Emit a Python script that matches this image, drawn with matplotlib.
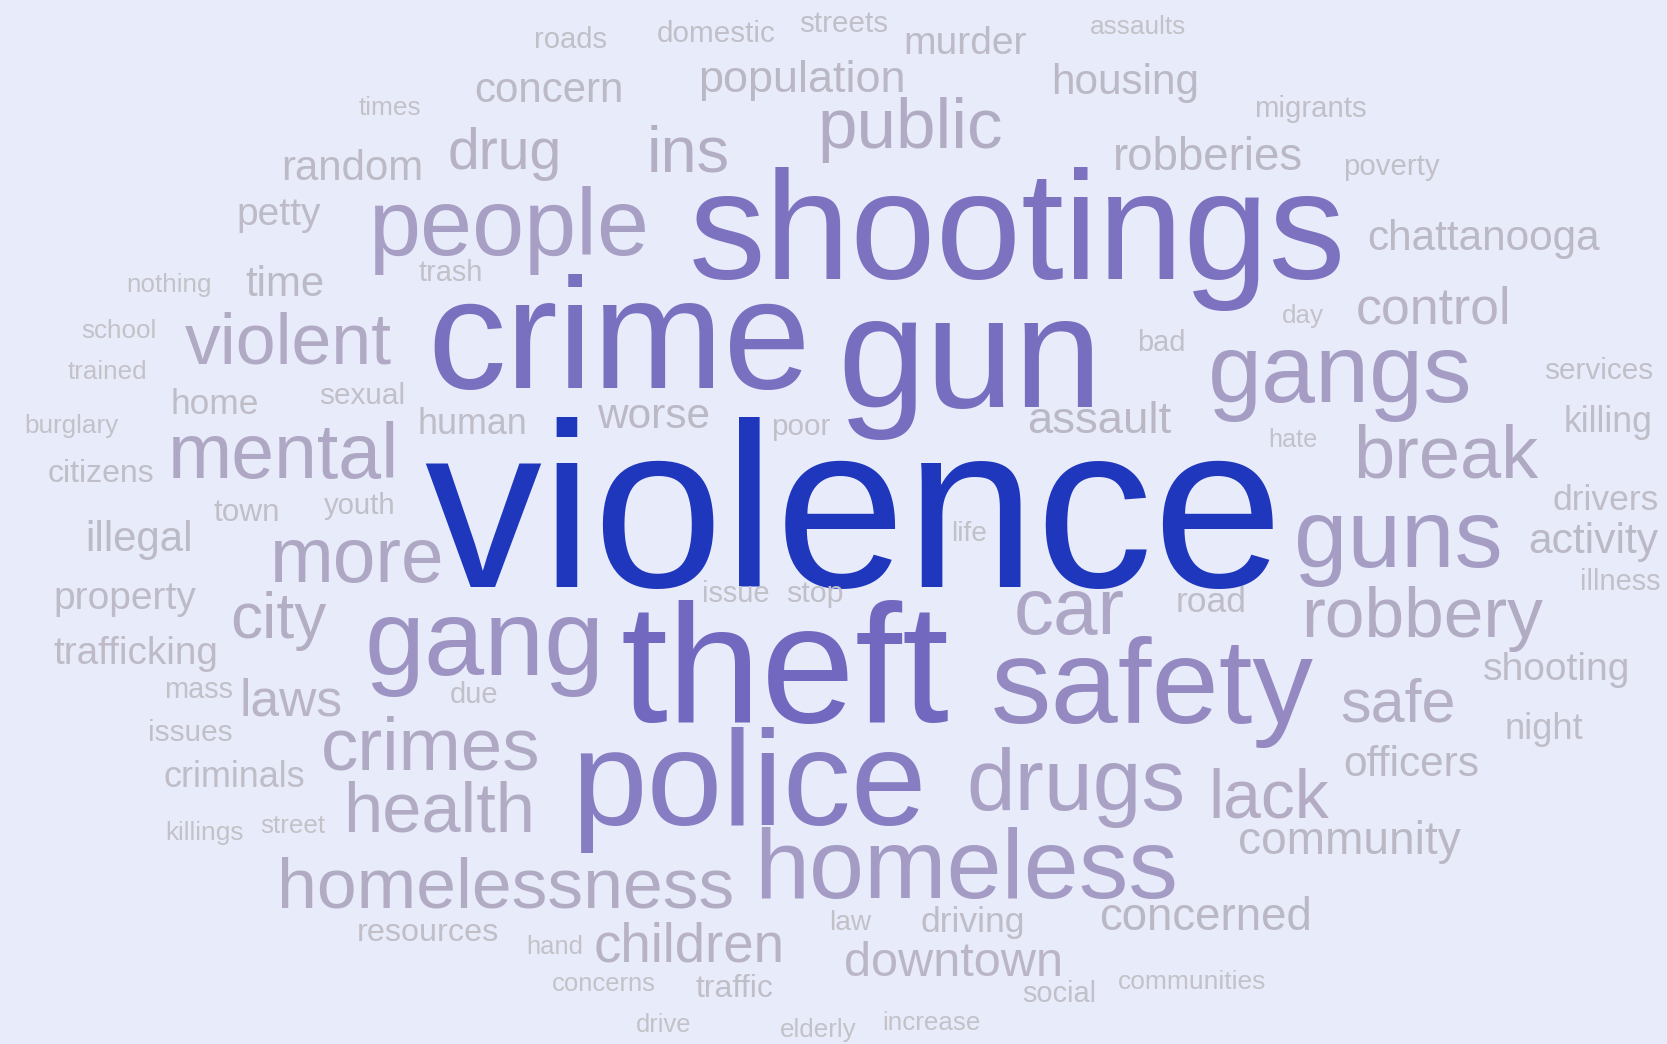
import numpy as np
import matplotlib
matplotlib.use("Agg")
import matplotlib.pyplot as plt
from matplotlib.colors import LinearSegmentedColormap

# word cloud data: word and its weight (font size in px, proportional to frequency)
words = ["violence", "theft", "crime", "gun", "shootings", "police", "safety", "gang",
         "homeless", "gangs", "guns", "people", "drugs", "car", "mental", "more",
         "crimes", "break", "homelessness", "violent", "robbery", "public", "health", "lack",
         "ins", "city", "safe", "drug", "children", "control", "laws", "downtown",
         "community", "robberies", "concerned", "assault", "population", "activity", "officers", "worse",
         "housing", "chattanooga", "concern", "illegal", "time", "random", "murder", "property",
         "shooting", "petty", "trafficking", "night", "criminals", "human", "killing", "road",
         "driving", "drivers", "home", "resources", "citizens", "traffic", "town", "stop",
         "services", "sexual", "issues", "domestic", "streets", "poor", "migrants", "poverty",
         "roads", "youth", "issue", "illness", "mass", "trash", "due", "bad",
         "social", "law", "life", "communities", "times", "assaults", "killings", "burglary",
         "nothing", "school", "trained", "day", "street", "elderly", "increase", "hand",
         "concerns", "drive", "hate"]

weights = [234, 169, 157, 159, 153.5, 136, 121, 108,
           99, 97, 96.4, 93.6, 87.6, 80, 77, 76.6,
           74.6, 74, 71.5, 71.7, 71.4, 71, 70.4, 67.7,
           65, 64, 61, 57, 54.6, 51.7, 51.5, 48.8,
           46, 45.6, 45.6, 45.5, 45, 42.6, 42.4, 42.4,
           42.3, 42.3, 42, 42, 42, 41.9, 39, 39,
           39, 38.9, 38.8, 36.3, 36, 35.8, 35.6, 35.5,
           35.5, 35.4, 35.3, 32.4, 32, 32, 31.5, 30.5,
           29.7, 29.7, 29.7, 29.6, 29.6, 29.5, 29.4, 29.4,
           29.3, 29.2, 29, 29, 29, 29, 29, 29,
           29, 28, 28, 26.4, 26.2, 26.2, 26.2, 26.1,
           26, 26, 26, 26, 26, 26, 26, 25.6,
           25.6, 25.5, 25.3]

# layout: word centre x and baseline y, in image pixels
layout = [(854, 587), (784.5, 722), (619.5, 388), (970, 407), (1017.5, 279), (749, 825), (1152, 723), (485, 675),
          (966, 898), (1340, 402), (1398.5, 567), (508.5, 255), (1075.5, 810), (1069.5, 634), (283.5, 478), (357.5, 582),
          (431, 769), (1445.5, 478), (505.5, 907), (288.5, 363), (1422, 637), (910, 148), (439, 832), (1268.5, 817),
          (688.5, 172), (278, 638), (1398.5, 722), (504.5, 169), (689.5, 962), (1433.5, 323), (291.5, 715), (954, 976),
          (1349, 854), (1208, 170), (1205.5, 930), (1099.5, 433), (801.5, 92), (1593, 553), (1411.5, 776), (653.5, 428),
          (1125, 94), (1483.5, 250), (549, 102), (139.5, 551), (284.5, 296), (352, 180), (965, 54), (125, 609),
          (1557, 680), (278.5, 225), (136, 664), (1544, 739), (234, 787), (472.5, 434), (1608, 432), (1211.5, 612),
          (973, 932), (1606, 510), (214.5, 414), (428, 941), (101, 482), (734.5, 997), (246.5, 521), (814.5, 602),
          (1598.5, 379), (362, 404), (190, 741), (716, 42), (843.5, 32), (800.5, 435), (1310, 117), (1391, 175),
          (570.5, 48), (359.5, 514), (736, 602), (1620.5, 590), (198.5, 698), (451, 281), (474, 703), (1161, 351),
          (1059, 1002), (850, 930), (969, 541), (1192, 989), (390, 115), (1138, 34), (204.5, 840), (71.5, 433),
          (169.5, 292), (118.5, 338), (107.5, 379), (1303, 323), (292.5, 833), (818, 1037), (931.5, 1030), (554.5, 954),
          (604, 991), (663.5, 1032), (1292.5, 447)]

W, H = 1667, 1044
DPI = 100
bg = "#e8ebfa"

# colour ramp from grey (rare words) through lavender/purple to blue (most frequent)
wmin, wmax = 25, 234
stops = [(wmin, "#c3c2c8"), (45, "#bbb8c6"), (72, "#b1aac4"), (97, "#a59dc4"),
         (121, "#9589c2"), (136, "#877dc2"), (157, "#7a70c0"), (169, "#7268c0"), (wmax, "#1f37bd")]
cmap = LinearSegmentedColormap.from_list(
    "cloud", [((w - wmin) / (wmax - wmin), c) for w, c in stops])

fig = plt.figure(figsize=(W / DPI, H / DPI), dpi=DPI, facecolor=bg)
ax = fig.add_axes([0, 0, 1, 1])
ax.set_facecolor(bg)
ax.set_xlim(0, W)
ax.set_ylim(H, 0)
ax.axis("off")

for word, w, (x, y) in zip(words, weights, layout):
    ax.text(x, y, word, fontsize=w * 72 / DPI, family="Liberation Sans",
            color=cmap((w - wmin) / (wmax - wmin)), ha="center", va="baseline")

fig.savefig("out.png", dpi=DPI, facecolor=bg)
